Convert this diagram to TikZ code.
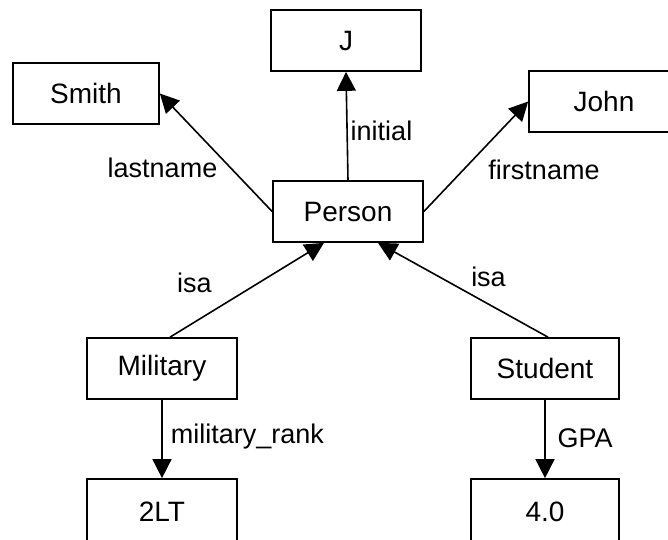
\documentclass[tikz,border=0pt]{standalone}
\usepackage{fontspec}
\setmainfont{Liberation Sans}
\usetikzlibrary{arrows.meta}
\begin{document}
\begin{tikzpicture}[x=1pt,y=-1pt,
  box/.style={draw, line width=1.7pt, minimum width=150pt, minimum height=61pt,
              inner sep=0pt, font=\fontsize{28}{34}\selectfont},
  rel/.style={line width=1.6pt, -{Triangle[length=19pt,width=19pt]}},
  lbl/.style={anchor=base, inner sep=0pt, font=\fontsize{27}{32}\selectfont}]
\useasboundingbox (0,0) rectangle (668,539);
\clip (0,0) rectangle (668,539);
\fill[white] (0,0) rectangle (668,539);

% frames
\node[box] (j)      at (346,40.5)  {J};
\node[box, minimum width=146pt] (smith) at (86,93.5) {Smith};
\node[box] (john)   at (604,101.5) {John};
\node[box] (person) at (348,211.5) {Person};
\node[box] (mil)    at (162,368.5) {Military};
\node[box, minimum width=148pt] (stu) at (545,368.5) {Student};
% value frames at the foot run past the lower edge
\node[box, minimum height=66pt] (rank) at (162,512) {2LT};
\node[box, minimum width=148pt, minimum height=66pt] (gpa) at (545,512) {4.0};

% slots
\draw[rel] (person.north) -- (j.south);
\draw[rel] (person.west) -- (smith.east);
\draw[rel] (person.east) -- (john.west);
\draw[rel] ([xshift=8pt]mil.north) -- ([xshift=-24pt]person.south);
\draw[rel] ([xshift=3pt]stu.north) -- ([xshift=30pt]person.south);
\draw[rel] (mil.south) -- (rank.north);
\draw[rel] (stu.south) -- (gpa.north);

% slot names
\node[lbl] (l1) at (162.5,177) {lastname};
\node[lbl] (l2) at (381.5,140) {initial};
\node[lbl] (l3) at (544,179) {firstname};
\node[lbl] (l4) at (194.5,292) {isa};
\node[lbl] (l5) at (488.5,286) {isa};
\node[lbl] (l6) at (247.5,443) {military\_rank};
\node[lbl] (l7) at (585,447) {GPA};
\end{tikzpicture}
\end{document}
